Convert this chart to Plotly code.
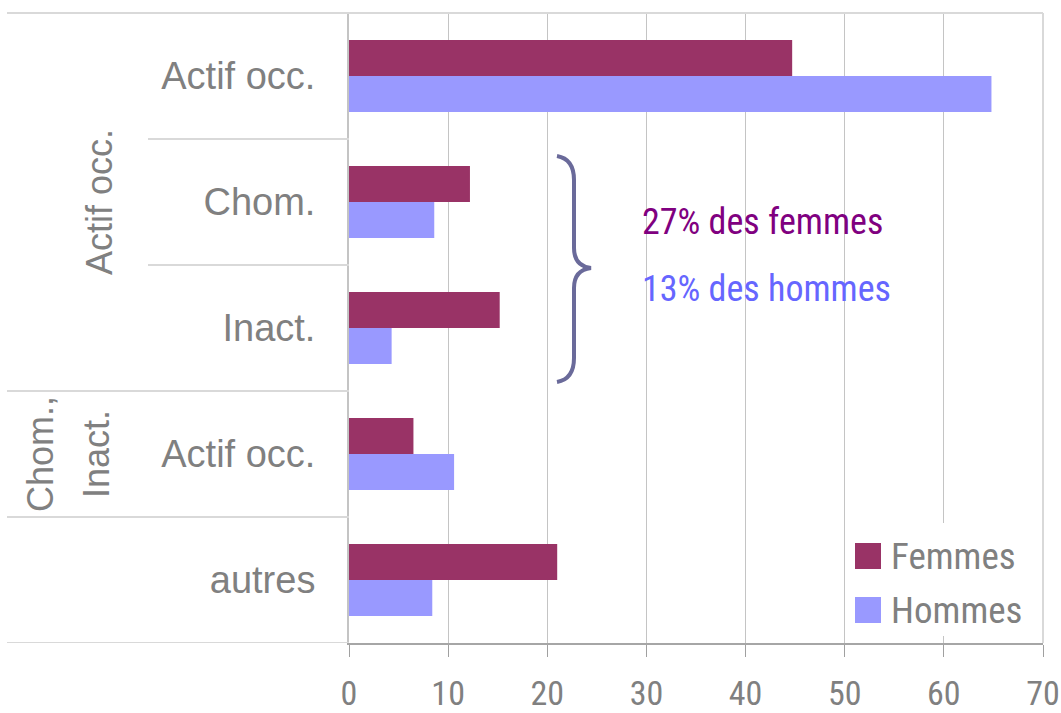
import plotly.graph_objects as go

# ---- data ----
categories = ["Actif occ.", "Chom.", "Inact.", "Actif occ.", "autres"]
groups = ["Actif occ.", "Chom.,", "Inact."]
series_names = ["Femmes", "Hommes"]
femmes = [44.7, 12.2, 15.2, 6.5, 21.0]
hommes = [64.8, 8.6, 4.3, 10.6, 8.4]
x_ticks = [0, 10, 20, 30, 40, 50, 60, 70]
note_femmes = "27% des femmes"
note_hommes = "13% des hommes"

W, H = 1061, 713
L, R, T, B = 349, 1043, 13, 643
PW, PH = R - L, B - T


def px(x):
    return (x - L) / PW


def py(y):
    return (B - y) / PH


ypos = list(range(len(categories)))
c_f = "#993366"
c_h = "#9999ff"
gray = "#808080"
narrow = "Roboto Condensed, DejaVu Sans Condensed, sans-serif"
regular = "Liberation Sans, Arial, sans-serif"

fig = go.Figure()
fig.add_bar(y=ypos, x=femmes, orientation="h", name=series_names[0],
            marker=dict(color=c_f, line=dict(width=0)), showlegend=False)
fig.add_bar(y=ypos, x=hommes, orientation="h", name=series_names[1],
            marker=dict(color=c_h, line=dict(width=0)), showlegend=False)

fig.update_layout(
    width=W, height=H,
    margin=dict(l=L, r=W - R, t=T, b=H - B, pad=0),
    paper_bgcolor="white", plot_bgcolor="white",
    barmode="group", bargap=0.43, bargroupgap=0,
    xaxis=dict(range=[0, 70], tickvals=x_ticks, showgrid=True, gridcolor="#c4c4c4",
               gridwidth=1, zeroline=False, ticks="outside", ticklen=12,
               tickcolor="#a0a0a0", tickwidth=1, showline=True, linecolor="#a6a6a6",
               linewidth=2, tickfont=dict(family=narrow, size=34, color=gray),
               ticklabelstandoff=7, automargin=False, ticklabeloverflow="allow"),
    yaxis=dict(range=[4.5, -0.5], tickvals=ypos, ticktext=categories, showgrid=False,
               zeroline=False, ticks="", showline=True, linecolor="#c4c4c4", linewidth=2,
               tickfont=dict(family=regular, size=38, color=gray),
               ticklabelstandoff=24, automargin=False),
)

shapes = []
line_c = "#d9d9d9"
shapes.append(dict(type="line", xref="paper", yref="paper", x0=px(7), x1=1, y0=1, y1=1,
                   line=dict(color=line_c, width=2)))
shapes.append(dict(type="line", xref="paper", yref="paper", x0=1, x1=1, y0=0, y1=1,
                   line=dict(color=line_c, width=2)))
for yb, x0 in [(0.5, 148), (1.5, 148), (2.5, 7), (3.5, 7), (4.5, 7)]:
    shapes.append(dict(type="line", xref="paper", yref="y", x0=px(x0), x1=0, y0=yb, y1=yb,
                       line=dict(color=line_c, width=2)))
shapes.append(dict(type="rect", xref="paper", yref="paper", x0=px(846), x1=px(1040),
                   y0=py(636), y1=py(523), fillcolor="white", line=dict(width=0)))
for (y0, y1), col in zip([(543, 569), (597, 623)], [c_f, c_h]):
    shapes.append(dict(type="rect", xref="paper", yref="paper", x0=px(855), x1=px(881),
                       y0=py(y1), y1=py(y0), fillcolor=col, line=dict(width=0)))
pts = [(557, 156), (574, 159), (574, 180), (574, 248), (574, 266), (591, 268),
       (574, 270), (574, 288), (574, 358), (574, 379), (557, 382)]
P = [f"{px(a):.5f},{py(b):.5f}" for a, b in pts]
path = (f"M {P[0]} Q {P[1]} {P[2]} L {P[3]} Q {P[4]} {P[5]} Q {P[6]} {P[7]} "
        f"L {P[8]} Q {P[9]} {P[10]}")
shapes.append(dict(type="path", xref="paper", yref="paper", path=path,
                   line=dict(color="#6a6a9a", width=4)))
fig.update_layout(shapes=shapes)

ann = []
ann.append(dict(text=groups[0], xref="paper", yref="y", x=px(99), y=1, textangle=-90,
                xanchor="center", yanchor="middle",
                showarrow=False, font=dict(family=regular, size=36, color=gray)))
ann.append(dict(text=groups[1], xref="paper", yref="y", x=px(40), y=3, textangle=-90,
                xanchor="center", yanchor="middle",
                showarrow=False, font=dict(family=regular, size=36, color=gray)))
ann.append(dict(text=groups[2], xref="paper", yref="y", x=px(96), y=3, textangle=-90,
                xanchor="center", yanchor="middle",
                showarrow=False, font=dict(family=regular, size=36, color=gray)))
ann.append(dict(text=note_femmes, xref="paper", yref="paper", x=px(640), y=py(222),
                xanchor="left", yanchor="middle", showarrow=False,
                font=dict(family=narrow, size=36, color="#800080")))
ann.append(dict(text=note_hommes, xref="paper", yref="paper", x=px(640), y=py(289),
                xanchor="left", yanchor="middle", showarrow=False,
                font=dict(family=narrow, size=36, color="#6666ff")))
for name, yc in zip(series_names, [556, 610]):
    ann.append(dict(text=name, xref="paper", yref="paper", x=px(889), y=py(yc),
                    xanchor="left", yanchor="middle", showarrow=False,
                    font=dict(family=narrow, size=37, color=gray)))
fig.update_layout(annotations=ann)

fig.write_html("out.html", post_script="document.body.style.margin='0';",
               config={"displayModeBar": False})
